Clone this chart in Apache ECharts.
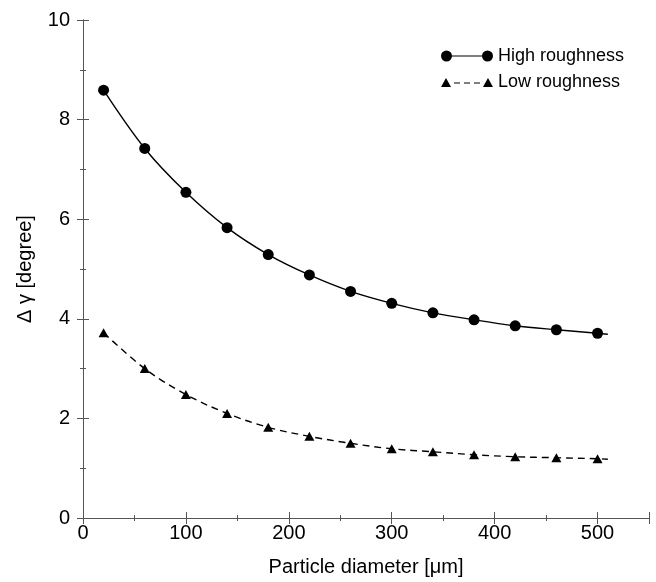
<!DOCTYPE html>
<html>
<head>
<meta charset="utf-8">
<script src="https://cdn.jsdelivr.net/npm/echarts@6/dist/echarts.min.js"></script>
<style>html,body{margin:0;padding:0;background:#fff}#c{width:656px;height:582px}</style>
</head>
<body>
<div id="c"></div>
<script>
// Data
var diameters = [20, 60, 100, 140, 180, 220, 260, 300, 340, 380, 420, 460, 500];
var highRoughness = [8.59, 7.42, 6.54, 5.83, 5.29, 4.88, 4.55, 4.31, 4.12, 3.98, 3.86, 3.78, 3.71];
var lowRoughness = [3.72, 3.00, 2.48, 2.10, 1.82, 1.64, 1.50, 1.39, 1.33, 1.27, 1.23, 1.21, 1.19];
// fitted curves continue slightly past the last marker
var curveEndX = 510;
var highCurveEnd = 3.69;
var lowCurveEnd = 1.18;
var xTicks = [0, 100, 200, 300, 400, 500];
var yTicks = [0, 2, 4, 6, 8, 10];

function buildSeriesData(xs, ys, endX, endY) {
  var d = xs.map(function (x, i) { return [x, ys[i]]; });
  d.push({ value: [endX, endY], symbol: 'none' });
  return d;
}

var FONT = '"Liberation Sans", Arial, Helvetica, sans-serif';
var AX = '#555';

var circleIcon = 'path://M0,5.5 A5.5,5.5 0 1 1 11,5.5 A5.5,5.5 0 1 1 0,5.5 Z M41,5.5 A5.5,5.5 0 1 1 52,5.5 A5.5,5.5 0 1 1 41,5.5 Z M10.5,4.9 L41.5,4.9 L41.5,6.1 L10.5,6.1 Z';
var triIcon = 'path://M0,10.5 L5,1.5 L10,10.5 Z M42,10.5 L47,1.5 L52,10.5 Z M13,5.9 L19,5.9 L19,7.1 L13,7.1 Z M23,5.9 L29,5.9 L29,7.1 L23,7.1 Z M33,5.9 L39,5.9 L39,7.1 L33,7.1 Z M0,0 L0.01,0 L0.01,0.01 Z M0,11 L0.01,11 L0.01,11.01 Z';

var chart = echarts.init(document.getElementById('c'), null, { renderer: 'canvas' });

function baseAxis(extra) {
  return Object.assign({
    type: 'value',
    axisLine: { show: true, lineStyle: { color: AX, width: 1 } },
    axisTick: { show: true, inside: true, length: 6, lineStyle: { color: AX } },
    minorTick: { show: true, splitNumber: 2, length: 3, lineStyle: { color: AX } },
    splitLine: { show: false },
    minorSplitLine: { show: false }
  }, extra);
}

var option = {
  backgroundColor: '#fff',
  animation: false,
  grid: { left: 83, right: 7, top: 20, bottom: 59, containLabel: false },
  legend: {
    left: 441, top: 47, orient: 'vertical', padding: 0,
    itemWidth: 52, itemHeight: 11, itemGap: 8,
    textStyle: { fontFamily: FONT, fontSize: 18, color: '#000' },
    itemStyle: { borderWidth: 0 },
    data: [
      { name: 'High roughness', icon: circleIcon },
      { name: 'Low roughness', icon: triIcon }
    ]
  },
  xAxis: [
    baseAxis({
      min: 0, max: 550, interval: 100, position: 'bottom',
      name: 'Particle diameter [μm]', nameLocation: 'middle', nameGap: 39,
      nameTextStyle: { fontFamily: FONT, fontSize: 20, color: '#000' },
      axisLabel: {
        fontFamily: FONT, fontSize: 20, color: '#000', margin: 5,
        formatter: function (v) { return xTicks.indexOf(v) >= 0 ? String(v) : ''; }
      }
    }),
    baseAxis({
      min: 0, max: 550, interval: 100, position: 'top',
      axisLabel: { show: false }
    })
  ],
  yAxis: [
    baseAxis({
      min: 0, max: 10, interval: 2, position: 'left',
      name: 'Δ γ [degree]', nameLocation: 'middle', nameGap: 48,
      nameTextStyle: { fontFamily: FONT, fontSize: 20, color: '#000' },
      axisLabel: {
        fontFamily: FONT, fontSize: 20, color: '#000', margin: 13,
        formatter: function (v) { return yTicks.indexOf(v) >= 0 ? String(v) : ''; }
      }
    }),
    baseAxis({
      min: 0, max: 10, interval: 2, position: 'right',
      axisLabel: { show: false }
    })
  ],
  series: [
    {
      name: 'High roughness', type: 'line', xAxisIndex: 0, yAxisIndex: 0,
      data: buildSeriesData(diameters, highRoughness, curveEndX, highCurveEnd),
      smooth: 0.35,
      symbol: 'circle', symbolSize: 11,
      itemStyle: { color: '#000' },
      lineStyle: { color: '#000', width: 1.4 }
    },
    {
      name: 'Low roughness', type: 'line', xAxisIndex: 0, yAxisIndex: 0,
      data: buildSeriesData(diameters, lowRoughness, curveEndX, lowCurveEnd),
      smooth: 0.35,
      symbol: 'triangle', symbolSize: [10, 9],
      itemStyle: { color: '#000' },
      lineStyle: { color: '#000', width: 1.4, type: [7, 5] }
    }
  ]
};
chart.setOption(option);
</script>
</body>
</html>
